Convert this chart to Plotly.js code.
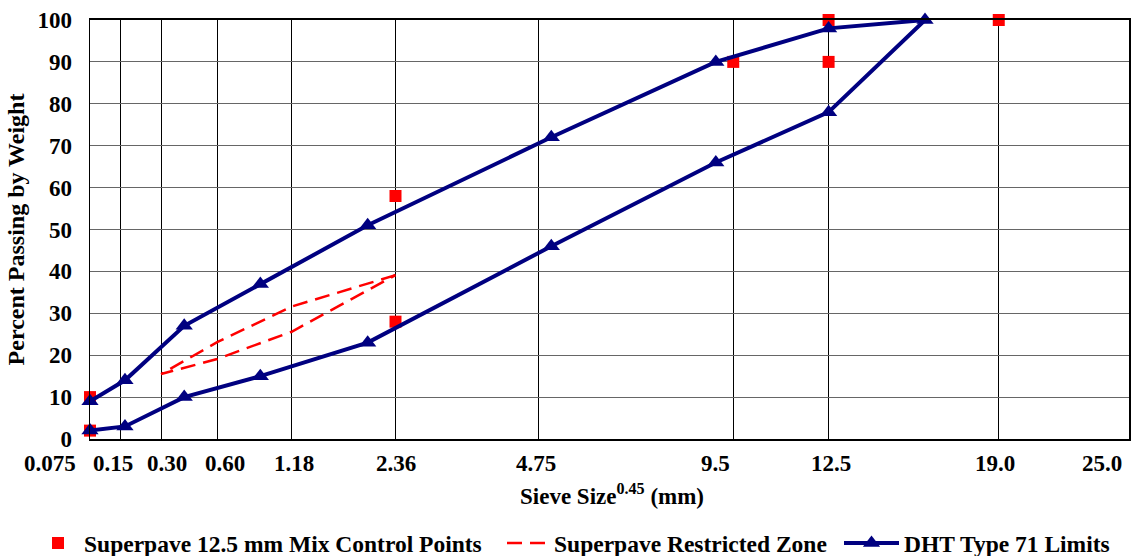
<!DOCTYPE html>
<html>
<head>
<meta charset="utf-8">
<script src="https://cdn.plot.ly/plotly-3.0.1.min.js"></script>
<style>html,body{margin:0;padding:0;background:#fff;}#chart{width:1134px;height:556px;}</style>
</head>
<body>
<div id="chart"></div>
<script>
// Sieve tick labels (mm) and their sizes
const sieveLabels = ['0.075','0.15','0.30','0.60','1.18','2.36','4.75','9.5','12.5','19.0','25.0'];
const sieveSizes  = [0.075, 0.15, 0.30, 0.60, 1.18, 2.36, 4.75, 9.5, 12.5, 19.0, 25.0];

// Superpave 12.5 mm mix control points
const controlSieves  = [0.075, 0.075, 2.36, 2.36, 9.5, 12.5, 12.5, 19.0];
const controlPassing = [2, 10, 28, 58, 90, 90, 100, 100];

// Superpave restricted zone
const zoneSieves  = [2.36, 1.18, 0.60, 0.30, 0.60, 1.18, 2.36];
const zonePassing = [39.1, 31.6, 23.1, 15.5, 19.1, 25.6, 39.1];

// DHT Type 71 limits (upper then lower band)
const dhtSieves  = [0.075, 0.165, 0.41, 0.91, 2.0, 5.0, 9.0, 12.5, 16.0, 12.5, 9.0, 5.0, 2.0, 0.91, 0.41, 0.165, 0.075];
const dhtPassing = [9, 14, 27, 37, 51, 72, 90, 98, 100, 78, 66, 46, 23, 15, 10, 3, 2];

const P = 0.45;
const tf = s => Math.pow(s, P);

// label offsets (px) relative to gridlines, as drawn in the reference
const labelShift = [-40, -7, 6, 8, 2, 0, -3, -18, 2, -4, -27];

const FONT = 'Liberation Serif, Times New Roman, serif';
const bold = (size) => ({family: FONT, size: size, color: '#000', weight: 'bold'});

const traces = [
  {
    x: controlSieves.map(tf), y: controlPassing,
    type: 'scatter', mode: 'markers',
    name: 'Superpave 12.5 mm Mix Control Points',
    marker: {symbol: 'square', size: 12, color: '#ff0000'},
    cliponaxis: false, legend: 'legend'
  },
  {
    x: zoneSieves.map(tf), y: zonePassing,
    type: 'scatter', mode: 'lines',
    name: 'Superpave Restricted Zone',
    line: {color: '#ff0000', width: 2.5, dash: '15px,8px'},
    legend: 'legend2'
  },
  {
    x: dhtSieves.map(tf), y: dhtPassing,
    type: 'scatter', mode: 'lines+markers',
    name: 'DHT Type 71 Limits',
    line: {color: '#000080', width: 4},
    marker: {symbol: 'triangle-up', size: 15, color: '#000080'},
    cliponaxis: false, legend: 'legend3'
  }
];

const annotations = sieveLabels.map((t, i) => ({
  text: t, x: tf(sieveSizes[i]), xref: 'x', y: 0, yref: 'paper',
  yanchor: 'top', xanchor: 'center', yshift: -10, xshift: labelShift[i],
  showarrow: false, font: bold(23)
}));
annotations.push({
  text: 'Sieve Size<sup>0.45</sup> (mm)', x: 0.5, xref: 'paper', y: 0, yref: 'paper',
  yanchor: 'top', xanchor: 'center', yshift: -39, xshift: 2,
  showarrow: false, font: bold(23)
});

const legendBase = (xpx, w) => ({
  orientation: 'h', x: xpx / 1134, xref: 'container', xanchor: 'left',
  y: 0.023, yref: 'container', yanchor: 'middle',
  font: bold(23.5), itemwidth: w, bgcolor: 'rgba(0,0,0,0)'
});

const layout = {
  width: 1134, height: 556,
  margin: {l: 90, r: 5, t: 20, b: 117},
  paper_bgcolor: '#fff', plot_bgcolor: '#fff',
  showlegend: true,
  legend: legendBase(32, 42),
  legend2: legendBase(502, 42),
  legend3: legendBase(839, 55),
  xaxis: {
    range: [tf(0.075), tf(25.0)],
    tickmode: 'array', tickvals: sieveSizes.map(tf), showticklabels: false,
    ticks: '', showgrid: true, gridcolor: '#000', gridwidth: 1,
    showline: true, linecolor: '#000', linewidth: 2, mirror: true,
    zeroline: false, automargin: false, fixedrange: true
  },
  yaxis: {
    range: [0, 100], tickmode: 'linear', tick0: 0, dtick: 10,
    tickfont: bold(23), ticks: 'outside', ticklen: 12, tickcolor: 'rgba(0,0,0,0)',
    showgrid: true, gridcolor: '#666', gridwidth: 1,
    showline: true, linecolor: '#000', linewidth: 1.5, mirror: true,
    zeroline: false, automargin: false,
    title: {text: 'Percent Passing by Weight', font: bold(24), standoff: 6}
  },
  annotations: annotations
};

Plotly.newPlot('chart', traces, layout, {displayModeBar: false, staticPlot: true});
</script>
</body>
</html>
